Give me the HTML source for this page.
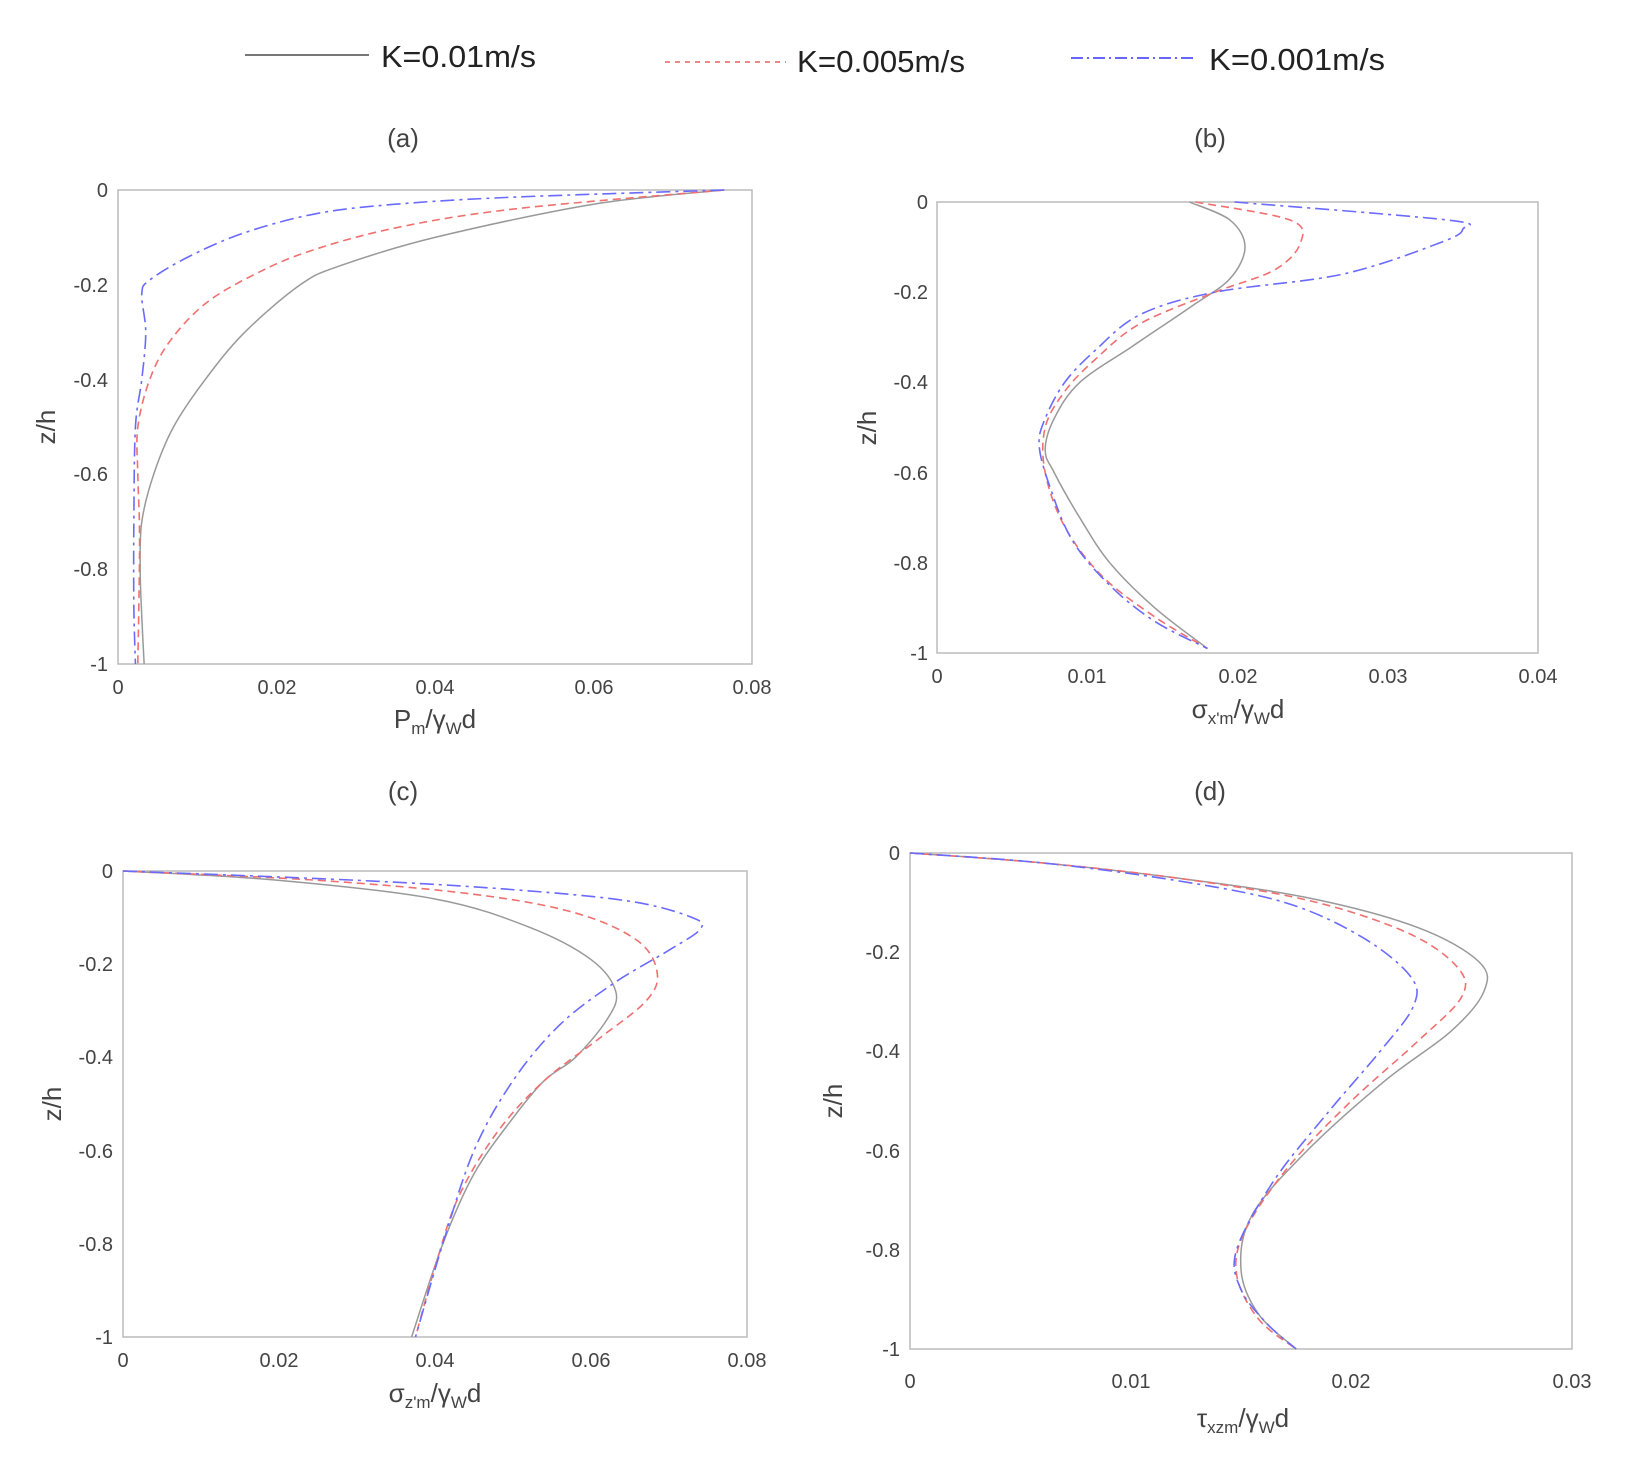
<!DOCTYPE html>
<html><head><meta charset="utf-8"><style>
html,body{margin:0;padding:0;background:#fff;}
svg{display:block;}
text{font-family:"Liberation Sans",sans-serif;fill:#444;}
.t{font-size:20px;}
.lab{font-size:26px;}
.leg{font-size:31px;fill:#222;}
</style></head><body>
<svg id="s" width="1630" height="1467" viewBox="0 0 1630 1467" xmlns="http://www.w3.org/2000/svg">
<line x1="245" y1="55" x2="369" y2="55" stroke="#777" stroke-width="2"/>
<text class="leg" x="381" y="67" textLength="155" lengthAdjust="spacingAndGlyphs">K=0.01m/s</text>
<line x1="665" y1="62" x2="786" y2="62" stroke="#e88" stroke-width="2" stroke-dasharray="5,5"/>
<text class="leg" x="797" y="72" textLength="168" lengthAdjust="spacingAndGlyphs">K=0.005m/s</text>
<line x1="1071" y1="58" x2="1197" y2="58" stroke="#66f" stroke-width="2" stroke-dasharray="12,4,2,4"/>
<text class="leg" x="1209" y="70" textLength="176" lengthAdjust="spacingAndGlyphs">K=0.001m/s</text>
<text class="lab" x="403" y="147" text-anchor="middle">(a)</text>
<text class="lab" x="1210" y="147" text-anchor="middle">(b)</text>
<text class="lab" x="403" y="800" text-anchor="middle">(c)</text>
<text class="lab" x="1210" y="800" text-anchor="middle">(d)</text>
<rect x="118" y="190" width="634" height="474" fill="none" stroke="#bbb" stroke-width="1.5"/>
<rect x="937" y="202" width="601" height="451" fill="none" stroke="#bbb" stroke-width="1.5"/>
<rect x="123" y="871" width="624" height="466" fill="none" stroke="#bbb" stroke-width="1.5"/>
<rect x="910" y="853" width="662" height="496" fill="none" stroke="#bbb" stroke-width="1.5"/>
<g class="t" text-anchor="end">
<text x="108" y="197">0</text><text x="108" y="292">-0.2</text><text x="108" y="387">-0.4</text><text x="108" y="481">-0.6</text><text x="108" y="576">-0.8</text><text x="108" y="671">-1</text>
</g>
<g class="t" text-anchor="middle">
<text x="118" y="694">0</text><text x="277" y="694">0.02</text><text x="435" y="694">0.04</text><text x="594" y="694">0.06</text><text x="752" y="694">0.08</text>
</g>
<text class="lab" x="435" y="728" text-anchor="middle">P<tspan font-size="17" dy="6">m</tspan><tspan dy="-6">/γ</tspan><tspan font-size="17" dy="6">W</tspan><tspan dy="-6">d</tspan></text>
<text class="lab" transform="translate(55,427) rotate(-90)" text-anchor="middle">z/h</text>
<g class="t" text-anchor="end">
<text x="928" y="209">0</text><text x="928" y="299">-0.2</text><text x="928" y="389">-0.4</text><text x="928" y="480">-0.6</text><text x="928" y="570">-0.8</text><text x="928" y="660">-1</text>
</g>
<g class="t" text-anchor="middle">
<text x="937" y="683">0</text><text x="1087" y="683">0.01</text><text x="1238" y="683">0.02</text><text x="1388" y="683">0.03</text><text x="1538" y="683">0.04</text>
</g>
<text class="lab" x="1238" y="718" text-anchor="middle">σ<tspan font-size="17" dy="6">x'm</tspan><tspan dy="-6">/γ</tspan><tspan font-size="17" dy="6">W</tspan><tspan dy="-6">d</tspan></text>
<text class="lab" transform="translate(876,428) rotate(-90)" text-anchor="middle">z/h</text>
<g class="t" text-anchor="end">
<text x="113" y="878">0</text><text x="113" y="971">-0.2</text><text x="113" y="1064">-0.4</text><text x="113" y="1158">-0.6</text><text x="113" y="1251">-0.8</text><text x="113" y="1344">-1</text>
</g>
<g class="t" text-anchor="middle">
<text x="123" y="1367">0</text><text x="279" y="1367">0.02</text><text x="435" y="1367">0.04</text><text x="591" y="1367">0.06</text><text x="747" y="1367">0.08</text>
</g>
<text class="lab" x="435" y="1402" text-anchor="middle">σ<tspan font-size="17" dy="6">z'm</tspan><tspan dy="-6">/γ</tspan><tspan font-size="17" dy="6">W</tspan><tspan dy="-6">d</tspan></text>
<text class="lab" transform="translate(61,1104) rotate(-90)" text-anchor="middle">z/h</text>
<g class="t" text-anchor="end">
<text x="900" y="860">0</text><text x="900" y="959">-0.2</text><text x="900" y="1058">-0.4</text><text x="900" y="1158">-0.6</text><text x="900" y="1257">-0.8</text><text x="900" y="1356">-1</text>
</g>
<g class="t" text-anchor="middle">
<text x="910" y="1388">0</text><text x="1131" y="1388">0.01</text><text x="1351" y="1388">0.02</text><text x="1572" y="1388">0.03</text>
</g>
<text class="lab" x="1243" y="1427" text-anchor="middle">τ<tspan font-size="17" dy="6">xzm</tspan><tspan dy="-6">/γ</tspan><tspan font-size="17" dy="6">W</tspan><tspan dy="-6">d</tspan></text>
<text class="lab" transform="translate(842,1101) rotate(-90)" text-anchor="middle">z/h</text>
<g id="curves"></g>
</svg>
<script>
var P=[
{L:118,R:752,T:190,B:664,xm:0.08,s:[
[[0.0765,0],[0.06,-0.03],[0.04,-0.1],[0.028,-0.16],[0.023,-0.2],[0.016,-0.3],[0.011,-0.4],[0.007,-0.5],[0.0045,-0.6],[0.003,-0.7],[0.0028,-0.8],[0.003,-0.9],[0.0033,-1]],
[[0.0765,0],[0.05,-0.04],[0.035,-0.08],[0.024,-0.13],[0.017,-0.18],[0.011,-0.24],[0.0065,-0.32],[0.004,-0.4],[0.0025,-0.5],[0.0025,-0.6],[0.0027,-0.7],[0.0027,-0.8],[0.0025,-1]],
[[0.0765,0],[0.05,-0.015],[0.035,-0.03],[0.025,-0.05],[0.016,-0.09],[0.009,-0.14],[0.004,-0.19],[0.003,-0.22],[0.0035,-0.3],[0.003,-0.4],[0.0022,-0.5],[0.002,-0.7],[0.002,-0.88],[0.0022,-1]]]},
{L:937,R:1538,T:202,B:653,xm:0.04,s:[
[[0.0168,0],[0.0195,-0.04],[0.0205,-0.1],[0.0195,-0.17],[0.017,-0.23],[0.013,-0.32],[0.0095,-0.4],[0.0078,-0.48],[0.0072,-0.55],[0.0078,-0.6],[0.0095,-0.7],[0.0115,-0.8],[0.0145,-0.9],[0.018,-0.99]],
[[0.0172,0],[0.0235,-0.04],[0.0242,-0.09],[0.0225,-0.15],[0.0185,-0.2],[0.0135,-0.27],[0.0105,-0.35],[0.0085,-0.42],[0.0072,-0.5],[0.0072,-0.6],[0.0085,-0.72],[0.011,-0.83],[0.0145,-0.92],[0.018,-0.99]],
[[0.0198,0],[0.034,-0.04],[0.035,-0.06],[0.0335,-0.09],[0.027,-0.16],[0.0185,-0.2],[0.0135,-0.25],[0.0105,-0.33],[0.0085,-0.4],[0.0072,-0.48],[0.0068,-0.54],[0.0075,-0.63],[0.009,-0.75],[0.0115,-0.85],[0.0145,-0.93],[0.018,-0.99]]]},
{L:123,R:747,T:871,B:1337,xm:0.08,s:[
[[0,0],[0.02,-0.02],[0.04,-0.06],[0.052,-0.12],[0.06,-0.19],[0.0632,-0.26],[0.062,-0.32],[0.058,-0.4],[0.054,-0.45],[0.05,-0.53],[0.045,-0.65],[0.041,-0.8],[0.037,-1]],
[[0,0],[0.025,-0.02],[0.045,-0.05],[0.058,-0.09],[0.066,-0.15],[0.0685,-0.22],[0.067,-0.28],[0.061,-0.36],[0.054,-0.45],[0.048,-0.56],[0.043,-0.7],[0.04,-0.85],[0.0375,-1]],
[[0,0],[0.03,-0.02],[0.05,-0.04],[0.065,-0.065],[0.073,-0.1],[0.074,-0.125],[0.07,-0.17],[0.063,-0.24],[0.056,-0.33],[0.05,-0.45],[0.045,-0.6],[0.041,-0.8],[0.0375,-1]]]},
{L:910,R:1572,T:853,B:1349,xm:0.03,s:[
[[0,0],[0.006,-0.02],[0.012,-0.05],[0.018,-0.09],[0.023,-0.15],[0.0258,-0.22],[0.026,-0.28],[0.0245,-0.36],[0.0215,-0.46],[0.018,-0.6],[0.0155,-0.73],[0.015,-0.84],[0.0158,-0.93],[0.0175,-1]],
[[0,0],[0.006,-0.02],[0.012,-0.05],[0.018,-0.095],[0.0225,-0.16],[0.0248,-0.23],[0.025,-0.29],[0.023,-0.38],[0.02,-0.5],[0.0172,-0.63],[0.0152,-0.76],[0.0148,-0.85],[0.0158,-0.94],[0.0175,-1]],
[[0,0],[0.006,-0.02],[0.012,-0.055],[0.017,-0.1],[0.0205,-0.17],[0.0227,-0.25],[0.0228,-0.31],[0.0213,-0.4],[0.019,-0.52],[0.0165,-0.66],[0.0148,-0.8],[0.015,-0.88],[0.0162,-0.95],[0.0175,-1]]]}
];
var sty=[["#999","none",1.5],["#f07070","8,5",1.6],["#6a6aff","14,5,3,5",1.6]];
var g=document.getElementById("curves"),ns="http://www.w3.org/2000/svg";
P.forEach(function(p){p.s.forEach(function(d,i){
var pts=d.map(function(v){return [p.L+v[0]/p.xm*(p.R-p.L),p.T+(-v[1])*(p.B-p.T)];});
var s="M"+pts[0][0]+","+pts[0][1];
for(var k=0;k<pts.length-1;k++){var a=pts[k-1]||pts[k],b=pts[k],c=pts[k+1],e=pts[k+2]||c;
s+=" C"+(b[0]+(c[0]-a[0])/6)+","+(b[1]+(c[1]-a[1])/6)+" "+(c[0]-(e[0]-b[0])/6)+","+(c[1]-(e[1]-b[1])/6)+" "+c[0]+","+c[1];}
var el=document.createElementNS(ns,"path");el.setAttribute("d",s);el.setAttribute("fill","none");
el.setAttribute("stroke",sty[i][0]);el.setAttribute("stroke-width",sty[i][2]);
if(sty[i][1]!="none")el.setAttribute("stroke-dasharray",sty[i][1]);g.appendChild(el);});});
</script>
</body></html>
